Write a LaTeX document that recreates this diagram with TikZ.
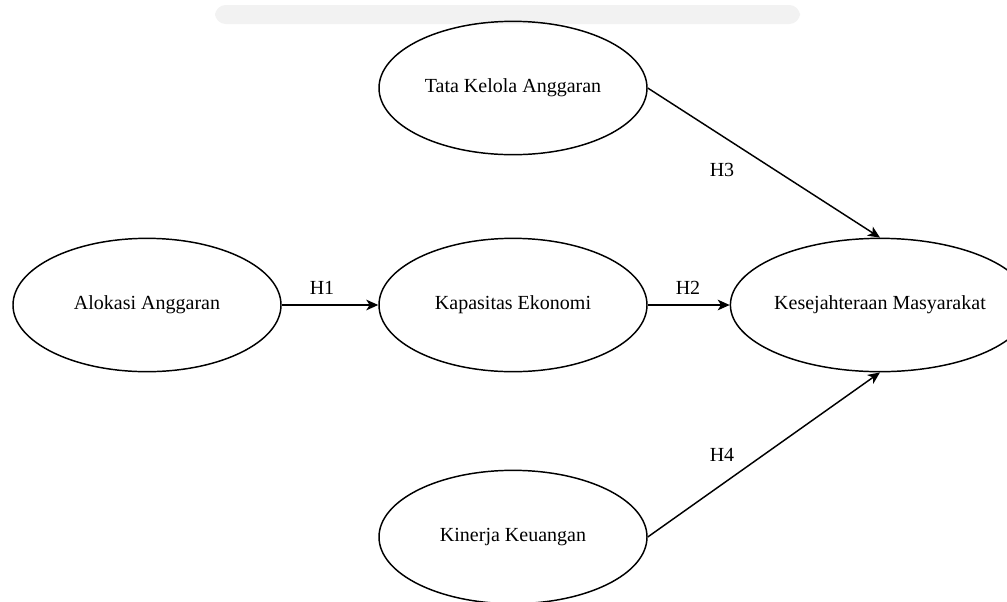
\documentclass[tikz,border=0pt]{standalone}
\usepackage{fontspec}
\setmainfont{Liberation Serif}
\usetikzlibrary{shapes.geometric,arrows.meta}

\begin{document}
\begin{tikzpicture}[x=0.75pt,y=-0.75pt,
    construct/.style ={ellipse, draw, line width=1.1pt, inner sep=0pt,
      minimum width=201pt, minimum height=100pt,
      font=\fontsize{15}{18}\selectfont},
    hlabel/.style ={font=\fontsize{15}{18}\selectfont},
    path/.style ={line width=1.1pt, -{Stealth[length=9pt,width=8pt,inset=2.5pt]}}]
   \useasboundingbox (0,0) rectangle (1007,601);
   \fill[black!5, rounded corners=8pt] (215,5) rectangle (800,24);
   \node[construct] (T)  at (513,88)  {Tata Kelola Anggaran};
   \node[construct] (A)  at (147,305)  {Alokasi Anggaran};
   \node[construct] (E)  at (513,305)  {Kapasitas Ekonomi};
   \node[construct] (K)  at (880,305)  {Kesejahteraan Masyarakat};
   \node[construct] (N)  at (513,537)  {Kinerja Keuangan};
   \draw[path] (A) to (E);
   \draw[path] (E) to (K);
   \draw[path] (T.east) to (K.north);
   \draw[path] (N.east) to (K.south);
   \node[hlabel] (h1) at (322,288) {H1};
   \node[hlabel] (h2) at (688,288) {H2};
   \node[hlabel] (h3) at (722,170) {H3};
   \node[hlabel] (h4) at (722,455) {H4};
 \end{tikzpicture}
\end{document}
